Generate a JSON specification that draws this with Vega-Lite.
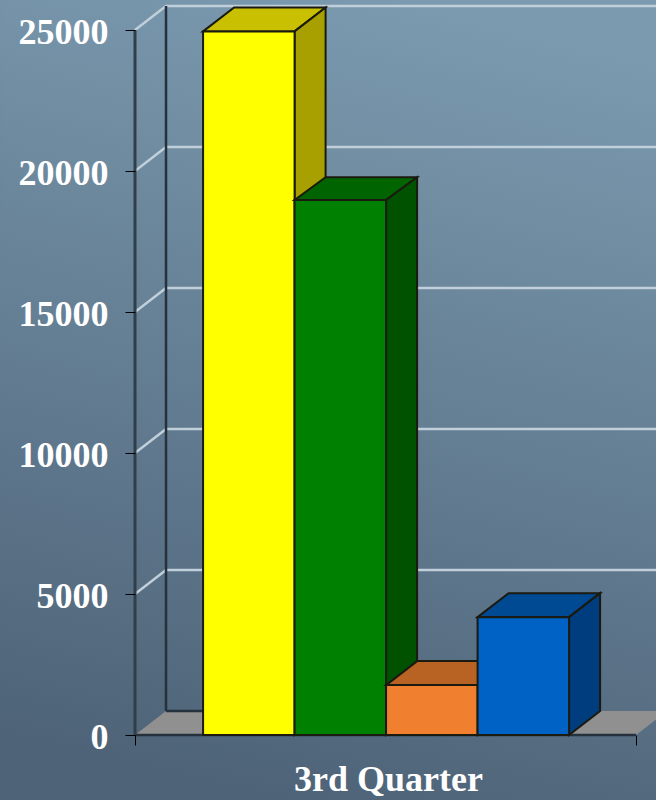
{"$schema":"https://vega.github.io/schema/vega-lite/v6.json","width":521,"height":735,"autosize":{"type":"none"},"padding":{"left":135,"top":0,"right":0,"bottom":65},"background":"#5a7085","view":{"stroke":null},
"datasets":{
"bg":[{"x":-2.224,"x2":4.945,"y":-2305,"y2":26064}],
"grid":[
{"g":5000,"x":-0.749,"y":5000},{"g":5000,"x":-0.41,"y":5851},{"g":5000,"x":4.945,"y":5851},
{"g":10000,"x":-0.749,"y":10000},{"g":10000,"x":-0.41,"y":10851},{"g":10000,"x":4.945,"y":10851},
{"g":15000,"x":-0.749,"y":15000},{"g":15000,"x":-0.41,"y":15851},{"g":15000,"x":4.945,"y":15851},
{"g":20000,"x":-0.749,"y":20000},{"g":20000,"x":-0.41,"y":20851},{"g":20000,"x":4.945,"y":20851},
{"g":25000,"x":-0.749,"y":25000},{"g":25000,"x":-0.41,"y":25851},{"g":25000,"x":4.945,"y":25851}],
"floor":[{"x":-0.749,"top":0,"base":0},{"x":-0.41,"top":851,"base":0},{"x":4.727,"top":851,"base":0},{"x":4.945,"top":851,"base":550}],
"frame":[
{"x":-0.41,"x2":-0.41,"y":851,"y2":25851},
{"x":-0.41,"x2":4.3,"y":851,"y2":851},
{"x":-0.749,"x2":4.727,"y":0,"y2":0}],
"axisline":[{"x":-0.749,"y":0,"y2":25000}],
"bars":[
{"id":"yellow top","x":-0.005,"top":24950,"base":24950},{"id":"yellow top","x":0.334,"top":25801,"base":24950},{"id":"yellow top","x":0.995,"top":25801,"base":24950},{"id":"yellow top","x":1.334,"top":25801,"base":25801},
{"id":"yellow side","x":0.995,"top":24950,"base":0},{"id":"yellow side","x":1.334,"top":25801,"base":851},
{"id":"yellow front","x":-0.005,"top":24950,"base":0},{"id":"yellow front","x":0.995,"top":24950,"base":0},
{"id":"green top","x":0.995,"top":18970,"base":18970},{"id":"green top","x":1.334,"top":19780,"base":18970},{"id":"green top","x":1.995,"top":19780,"base":18970},{"id":"green top","x":2.334,"top":19780,"base":19780},
{"id":"green side","x":1.995,"top":18970,"base":0},{"id":"green side","x":2.334,"top":19780,"base":851},
{"id":"green front","x":0.995,"top":18970,"base":0},{"id":"green front","x":1.995,"top":18970,"base":0},
{"id":"orange top","x":1.995,"top":1770,"base":1770},{"id":"orange top","x":2.334,"top":2621,"base":1770},{"id":"orange top","x":2.995,"top":2621,"base":1770},{"id":"orange top","x":3.334,"top":2621,"base":2621},
{"id":"orange side","x":2.995,"top":1770,"base":0},{"id":"orange side","x":3.334,"top":2621,"base":851},
{"id":"orange front","x":1.995,"top":1770,"base":0},{"id":"orange front","x":2.995,"top":1770,"base":0},
{"id":"blue top","x":2.995,"top":4180,"base":4180},{"id":"blue top","x":3.334,"top":5031,"base":4180},{"id":"blue top","x":3.995,"top":5031,"base":4180},{"id":"blue top","x":4.334,"top":5031,"base":5031},
{"id":"blue side","x":3.995,"top":4180,"base":0},{"id":"blue side","x":4.334,"top":5031,"base":851},
{"id":"blue front","x":2.995,"top":4180,"base":0},{"id":"blue front","x":3.995,"top":4180,"base":0}]
},
"layer":[
{"data":{"name":"bg"},"mark":{"type":"rect","fill":{"gradient":"linear","x1":0.62,"y1":0,"x2":0.42,"y2":1,"stops":[{"offset":0,"color":"#7b9aaf"},{"offset":1,"color":"#4e6378"}]}},
"encoding":{
"x":{"field":"x","type":"quantitative","scale":{"domain":[-0.749,4.945],"nice":false,"zero":false},
"axis":{"values":[-0.749,4.727],"labels":false,"grid":false,"domain":false,"tickSize":10,"tickColor":"#000000","tickWidth":1,"title":"3rd Quarter","titleFont":"Liberation Serif","titleFontWeight":"bold","titleFontSize":36,"titleColor":"#ffffff","titleX":253,"titleY":55,"titleBaseline":"alphabetic","zindex":1}},
"x2":{"field":"x2"},
"y":{"field":"y","type":"quantitative","scale":{"domain":[0,26064],"nice":false,"zero":false},
"axis":{"values":[0,5000,10000,15000,20000,25000],"format":"d","grid":false,"domain":false,"tickSize":10,"tickColor":"#000000","tickWidth":1,"labelFont":"Liberation Serif","labelFontWeight":"bold","labelFontSize":36,"labelColor":"#ffffff","labelPadding":17,"labelOffset":2,"title":null,"zindex":1}},
"y2":{"field":"y2"}}},
{"data":{"name":"floor"},"mark":{"type":"area","fill":"#909090"},"encoding":{"x":{"field":"x","type":"quantitative"},"y":{"field":"top","type":"quantitative","stack":null},"y2":{"field":"base"}}},
{"data":{"name":"grid"},"mark":{"type":"line","color":"#c0cfda","strokeWidth":2.5},"encoding":{"x":{"field":"x","type":"quantitative"},"y":{"field":"y","type":"quantitative"},"detail":{"field":"g"}}},
{"data":{"name":"frame"},"mark":{"type":"rule","color":"#25323d","strokeWidth":2.5},"encoding":{"x":{"field":"x","type":"quantitative"},"x2":{"field":"x2"},"y":{"field":"y","type":"quantitative"},"y2":{"field":"y2"}}},
{"data":{"name":"axisline"},"mark":{"type":"rule","color":"#303e4a","strokeWidth":3},"encoding":{"x":{"field":"x","type":"quantitative"},"y":{"field":"y","type":"quantitative"},"y2":{"field":"y2"}}},
{"data":{"name":"bars"},"mark":{"type":"area","stroke":"#1a1a10","strokeWidth":2,"strokeJoin":"miter"},"encoding":{
"x":{"field":"x","type":"quantitative"},
"y":{"field":"top","type":"quantitative","stack":null},"y2":{"field":"base"},
"color":{"field":"id","type":"nominal","legend":null,"scale":{"domain":["yellow top","yellow side","yellow front","green top","green side","green front","orange top","orange side","orange front","blue top","blue side","blue front"],"range":["#c8c000","#a8a000","#ffff00","#006400","#005200","#008000","#b86224","#a05520","#f08030","#004a94","#003d7f","#0062c4"]}}}}
]}
